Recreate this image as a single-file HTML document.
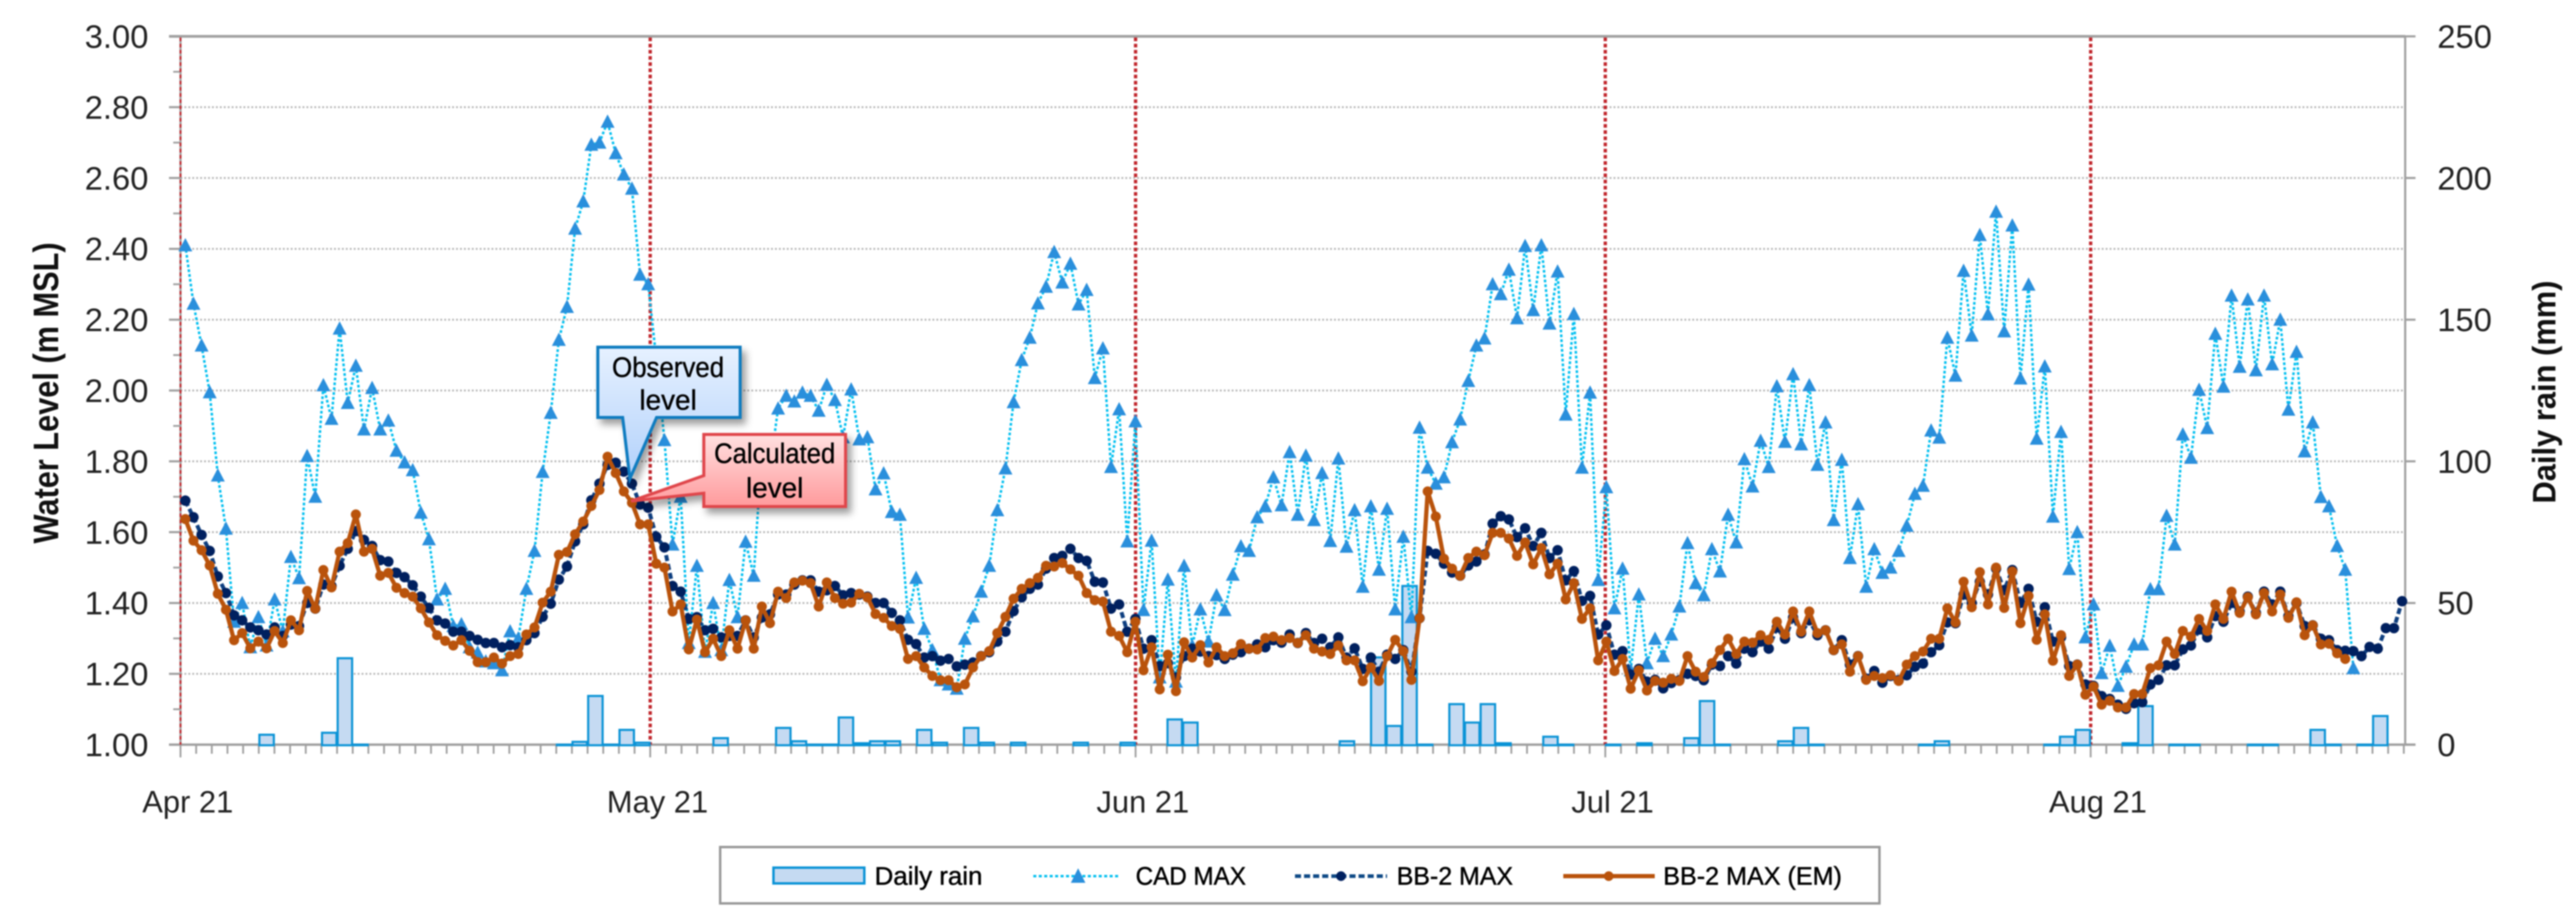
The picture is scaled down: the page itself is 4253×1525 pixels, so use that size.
<!DOCTYPE html>
<html lang="en">
<head>
<meta charset="utf-8">
<title>Water level and daily rain chart</title>
<style>
  html, body { margin: 0; padding: 0; background: #fff; width: 4253px; height: 1525px; overflow: hidden; }
  #chart { display: block; filter: blur(1px); font-family: "Liberation Sans", sans-serif; }
  .callout { filter: drop-shadow(7px 9px 6px rgba(0,0,0,.38)); }
</style>
</head>
<body>
<svg id="chart" xmlns="http://www.w3.org/2000/svg" width="4253" height="1525" viewBox="0 0 4253 1525">
  <defs>
    <linearGradient id="blueFill" x1="0" y1="0" x2="0" y2="1">
      <stop offset="0" stop-color="#e6f1ff"/><stop offset="1" stop-color="#b2d1fb"/>
    </linearGradient>
    <linearGradient id="redFill" x1="0" y1="0" x2="0" y2="1">
      <stop offset="0" stop-color="#ffe0e0"/><stop offset="1" stop-color="#ff9a9c"/>
    </linearGradient>
  </defs>
  <rect x="0" y="0" width="4253" height="1525" fill="#fff"/>
  <g id="gridLayer"></g>
  <g id="axisLayer"></g>
  <g id="monthLayer"></g>
  <g id="rainLayer"></g>
  <g id="cadLayer"></g>
  <g id="bbLayer"></g>
  <g id="emLayer"></g>

  <text transform="translate(96,897) rotate(-90)" font-size="58" font-weight="bold" fill="#111" textLength="497" lengthAdjust="spacingAndGlyphs">Water Level (m MSL)</text>
  <text transform="translate(4219,831) rotate(-90)" font-size="54" font-weight="bold" fill="#111" textLength="368" lengthAdjust="spacingAndGlyphs">Daily rain (mm)</text>

  <g class="callout">
    <path d="M987 573 H1222 V689 H1084 L1040 790 L1028 689 H987 Z" fill="url(#blueFill)" stroke="#0f7cc0" stroke-width="5"/>
  </g>
  <text x="1103" y="622" font-size="46" fill="#000" stroke="#000" stroke-width="0.6" text-anchor="middle" textLength="185" lengthAdjust="spacingAndGlyphs">Observed</text>
  <text x="1103" y="676" font-size="46" fill="#000" stroke="#000" stroke-width="0.6" text-anchor="middle">level</text>

  <g class="callout">
    <path d="M1162 717 H1396 V836 H1162 V814 L1042 827 L1162 785 Z" fill="url(#redFill)" stroke="#e0474c" stroke-width="5"/>
  </g>
  <text x="1279" y="764" font-size="46" fill="#000" stroke="#000" stroke-width="0.6" text-anchor="middle" textLength="200" lengthAdjust="spacingAndGlyphs">Calculated</text>
  <text x="1279" y="821" font-size="46" fill="#000" stroke="#000" stroke-width="0.6" text-anchor="middle">level</text>

  <g>
    <rect x="1189" y="1398" width="1914" height="93" fill="#fff" stroke="#999" stroke-width="4"/>
    <g>
      <rect x="1277" y="1432" width="150" height="26" fill="#c5daf2" stroke="#0a93d6" stroke-width="4"/>
      <text x="1444" y="1460" font-size="42" fill="#000" stroke="#000" stroke-width="0.7" textLength="178" lengthAdjust="spacingAndGlyphs">Daily rain</text>
    </g>
    <g>
      <line x1="1706" y1="1446" x2="1849" y2="1446" stroke="#00bff0" stroke-width="4" stroke-dasharray="5 4"/>
      <polygon points="1780,1433 1792,1457 1768,1457" fill="#2a8fdc"/>
      <text x="1875" y="1460" font-size="42" fill="#000" stroke="#000" stroke-width="0.7" textLength="182" lengthAdjust="spacingAndGlyphs">CAD MAX</text>
    </g>
    <g>
      <line x1="2138" y1="1446" x2="2290" y2="1446" stroke="#0f4a86" stroke-width="6" stroke-dasharray="10 5"/>
      <circle cx="2214" cy="1446" r="8" fill="#00205f"/>
      <text x="2306" y="1460" font-size="42" fill="#000" stroke="#000" stroke-width="0.7" textLength="192" lengthAdjust="spacingAndGlyphs">BB-2 MAX</text>
    </g>
    <g>
      <line x1="2581" y1="1446" x2="2732" y2="1446" stroke="#b9530c" stroke-width="7"/>
      <circle cx="2656" cy="1446" r="8" fill="#b9530c"/>
      <text x="2746" y="1460" font-size="42" fill="#000" stroke="#000" stroke-width="0.7" textLength="295" lengthAdjust="spacingAndGlyphs">BB-2 MAX (EM)</text>
    </g>
  </g>
</svg>
<script>
var leftTickLabels = ['1.00','1.20','1.40','1.60','1.80','2.00','2.20','2.40','2.60','2.80','3.00'];
var rightTickLabels = ['0','50','100','150','200','250'];
var monthLabels = ['Apr 21','May 21','Jun 21','Jul 21','Aug 21'];
var monthSlots = [0,30,61,91,122];

var rainSlots = [5,9,10,11,24,25,26,27,28,29,34,38,39,40,41,42,43,44,45,47,48,50,51,53,57,60,63,64,74,76,77,78,79,81,82,83,84,87,88,91,93,96,97,98,102,103,104,111,112,119,120,121,124,125,127,128,132,133,136,137,139,140];
var rainMm = [3.5,4.2,30.5,0,0,1,17.2,0,5.2,0.7,2.3,5.9,1.2,0,0,9.6,0.5,1.2,1.2,5.2,0.7,5.9,0.7,0.7,0.7,0.7,8.9,7.8,1.2,30.8,6.6,56,0,14.3,7.8,14.3,0.5,2.8,0,0,0.5,2.3,15.4,0,1.2,5.9,0,0,1.2,0,2.8,5.2,0.5,13.6,0,0,0,0,5.2,0,0,10.1];

var cadMax = [
2.41,2.245,2.127,1.995,1.76,1.61,1.347,1.40,1.275,1.36,
1.28,1.41,1.32,1.53,1.47,1.815,1.70,2.015,1.92,2.175,
1.965,2.07,1.89,2.007,1.89,1.915,1.83,1.797,1.775,1.655,
1.58,1.41,1.44,1.335,1.34,1.275,1.26,1.235,1.23,1.21,
1.32,1.30,1.44,1.547,1.77,1.937,2.143,2.236,2.457,2.534,
2.694,2.70,2.759,2.67,2.61,2.57,2.327,2.30,2.09,1.86,
1.565,1.70,1.287,1.505,1.262,1.40,1.267,1.465,1.36,1.573,
1.477,1.83,1.78,1.949,1.985,1.969,1.994,1.985,1.943,2.016,
1.973,1.868,2.003,1.862,1.868,1.721,1.766,1.657,1.649,1.359,
1.471,1.327,1.267,1.182,1.17,1.158,1.299,1.362,1.432,1.505,
1.662,1.78,1.967,2.086,2.149,2.246,2.293,2.391,2.305,2.358,
2.243,2.284,2.035,2.119,1.784,1.947,1.574,1.913,1.38,1.576,
1.19,1.466,1.178,1.505,1.279,1.382,1.291,1.422,1.38,1.48,
1.56,1.547,1.642,1.673,1.755,1.676,1.826,1.649,1.816,1.634,
1.767,1.575,1.808,1.559,1.662,1.446,1.673,1.494,1.666,1.382,
1.587,1.36,1.895,1.782,1.737,1.755,1.854,1.918,2.027,2.127,
2.147,2.30,2.272,2.341,2.204,2.408,2.227,2.41,2.189,2.336,
1.932,2.216,1.782,1.994,1.465,1.727,1.385,1.497,1.21,1.424,
1.23,1.299,1.25,1.311,1.39,1.569,1.456,1.422,1.552,1.489,
1.649,1.571,1.806,1.729,1.858,1.784,2.012,1.855,2.046,1.848,
2.015,1.79,1.91,1.634,1.804,1.527,1.679,1.446,1.552,1.485,
1.50,1.547,1.618,1.708,1.731,1.887,1.867,2.149,2.042,2.338,
2.155,2.439,2.215,2.505,2.167,2.466,2.034,2.299,1.864,2.068,
1.644,1.883,1.496,1.60,1.303,1.396,1.202,1.279,1.166,1.22,
1.283,1.283,1.439,1.439,1.646,1.565,1.876,1.81,2.002,1.894,
2.16,2.011,2.268,2.067,2.257,2.057,2.268,2.074,2.20,1.946,
2.109,1.828,1.91,1.699,1.673,1.561,1.494,1.216];

var bbMax = [
1.689,1.642,1.592,1.547,1.475,1.428,1.365,1.351,1.331,1.323,
1.311,1.331,1.307,1.339,1.335,1.40,1.384,1.452,1.448,1.505,
1.553,1.603,1.578,1.561,1.521,1.517,1.485,1.473,1.45,1.418,
1.386,1.351,1.342,1.319,1.319,1.307,1.296,1.287,1.287,1.275,
1.281,1.275,1.295,1.315,1.361,1.398,1.466,1.503,1.574,1.622,
1.69,1.737,1.79,1.796,1.771,1.737,1.678,1.669,1.587,1.557,
1.448,1.432,1.355,1.36,1.323,1.327,1.303,1.307,1.307,1.351,
1.303,1.359,1.368,1.424,1.424,1.452,1.464,1.464,1.432,1.436,
1.448,1.422,1.428,1.424,1.418,1.40,1.40,1.372,1.351,1.296,
1.284,1.246,1.25,1.237,1.242,1.221,1.226,1.232,1.25,1.261,
1.291,1.319,1.377,1.416,1.44,1.452,1.497,1.527,1.533,1.553,
1.527,1.519,1.46,1.458,1.384,1.396,1.319,1.355,1.271,1.295,
1.222,1.23,1.19,1.25,1.271,1.263,1.25,1.253,1.242,1.254,
1.261,1.271,1.283,1.275,1.295,1.288,1.311,1.287,1.315,1.287,
1.299,1.275,1.303,1.246,1.272,1.214,1.246,1.206,1.254,1.242,
1.267,1.206,1.357,1.547,1.539,1.511,1.486,1.477,1.506,1.517,
1.537,1.624,1.645,1.636,1.586,1.611,1.561,1.598,1.527,1.549,
1.464,1.49,1.406,1.42,1.311,1.337,1.254,1.264,1.198,1.214,
1.178,1.183,1.159,1.174,1.182,1.20,1.194,1.182,1.226,1.222,
1.25,1.229,1.271,1.261,1.291,1.271,1.331,1.299,1.359,1.315,
1.351,1.309,1.323,1.267,1.295,1.226,1.25,1.186,1.208,1.175,
1.194,1.182,1.196,1.22,1.229,1.261,1.281,1.345,1.343,1.424,
1.40,1.46,1.424,1.497,1.436,1.493,1.40,1.44,1.347,1.388,
1.291,1.303,1.222,1.226,1.17,1.166,1.137,1.129,1.113,1.101,
1.117,1.12,1.17,1.183,1.224,1.224,1.269,1.28,1.325,1.303,
1.363,1.347,1.40,1.376,1.418,1.372,1.432,1.396,1.432,1.363,
1.40,1.335,1.337,1.299,1.295,1.267,1.265,1.264,1.25,1.276,
1.271,1.329,1.329,1.405];

var bbMaxEm = [
1.637,1.576,1.549,1.506,1.426,1.381,1.295,1.315,1.272,1.291,
1.272,1.321,1.287,1.351,1.323,1.434,1.384,1.493,1.444,1.545,
1.569,1.65,1.545,1.553,1.477,1.485,1.443,1.428,1.418,1.385,
1.345,1.309,1.293,1.28,1.295,1.265,1.233,1.233,1.246,1.229,
1.25,1.256,1.311,1.331,1.401,1.432,1.536,1.544,1.594,1.63,
1.674,1.719,1.813,1.767,1.715,1.683,1.622,1.622,1.511,1.50,
1.376,1.396,1.269,1.353,1.261,1.299,1.25,1.323,1.271,1.351,
1.271,1.39,1.343,1.432,1.414,1.458,1.463,1.456,1.39,1.458,
1.414,1.398,1.401,1.426,1.416,1.369,1.358,1.335,1.327,1.242,
1.25,1.218,1.194,1.182,1.182,1.162,1.17,1.218,1.25,1.264,
1.315,1.361,1.412,1.44,1.456,1.471,1.505,1.503,1.513,1.495,
1.477,1.428,1.408,1.404,1.319,1.307,1.261,1.347,1.21,1.275,
1.156,1.254,1.151,1.289,1.246,1.281,1.232,1.275,1.25,1.258,
1.284,1.271,1.269,1.301,1.305,1.295,1.301,1.287,1.309,1.271,
1.263,1.256,1.28,1.238,1.238,1.179,1.218,1.18,1.25,1.296,
1.264,1.183,1.357,1.715,1.644,1.525,1.497,1.477,1.527,1.545,
1.535,1.598,1.598,1.582,1.533,1.571,1.509,1.555,1.481,1.511,
1.41,1.456,1.355,1.385,1.238,1.291,1.208,1.242,1.158,1.21,
1.153,1.18,1.175,1.186,1.18,1.25,1.206,1.191,1.23,1.267,
1.299,1.256,1.291,1.288,1.309,1.296,1.347,1.311,1.376,1.319,
1.376,1.315,1.323,1.267,1.283,1.206,1.25,1.183,1.194,1.188,
1.196,1.18,1.226,1.25,1.263,1.299,1.299,1.385,1.345,1.46,
1.388,1.487,1.396,1.50,1.386,1.489,1.343,1.42,1.296,1.368,
1.237,1.309,1.194,1.226,1.141,1.164,1.113,1.124,1.105,1.105,
1.143,1.143,1.216,1.224,1.291,1.256,1.321,1.305,1.355,1.321,
1.396,1.355,1.432,1.372,1.416,1.368,1.428,1.376,1.424,1.358,
1.402,1.309,1.337,1.283,1.285,1.258,1.242];

var SVG_NS = 'http://www.w3.org/2000/svg';
var PLOT_LEFT = 298, PLOT_RIGHT = 3971, PLOT_TOP = 60, PLOT_BOTTOM = 1229;
var SLOT_COUNT = 142;

function xPoint(i) { return 306 + 13.406 * i; }
function xSlot(k) { return PLOT_LEFT + 25.85 * k; }
function yLevel(v) { return PLOT_BOTTOM - (v - 1) * (PLOT_BOTTOM - PLOT_TOP) / 2; }
function yRain(mm) { return PLOT_BOTTOM - mm * (PLOT_BOTTOM - PLOT_TOP) / 250; }

function make(tag, attrs, parent) {
  var el = document.createElementNS(SVG_NS, tag);
  for (var key in attrs) { el.setAttribute(key, attrs[key]); }
  parent.appendChild(el);
  return el;
}
function pointsFor(values) {
  return values.map(function (v, i) { return xPoint(i).toFixed(1) + ',' + yLevel(v).toFixed(1); }).join(' ');
}

var gridLayer = document.getElementById('gridLayer');
var monthLayer = document.getElementById('monthLayer');
var axisLayer = document.getElementById('axisLayer');
var rainLayer = document.getElementById('rainLayer');
var cadLayer = document.getElementById('cadLayer');
var bbLayer = document.getElementById('bbLayer');
var emLayer = document.getElementById('emLayer');
var GRAY = '#a0a0a0';

leftTickLabels.forEach(function (label) {
  var v = parseFloat(label);
  var y = yLevel(v);
  if (v > 1 && v < 3) {
    var grid = make('line', {x1: PLOT_LEFT, y1: y, x2: PLOT_RIGHT, y2: y, stroke: '#b4b4b4', 'stroke-width': 3, 'stroke-dasharray': '3 3.5'}, gridLayer);
    
    
  }
  var tick = make('line', {x1: 279, y1: y, x2: PLOT_LEFT, y2: y, stroke: GRAY, 'stroke-width': 3.5}, axisLayer);
  
  
  if (v < 3) {
    var minorY = yLevel(v + 0.1);
    var minor = make('line', {x1: 286, y1: minorY, x2: PLOT_LEFT, y2: minorY, stroke: GRAY, 'stroke-width': 3}, axisLayer);
    
    
  }
  var text = make('text', {x: 245, y: y + 19, 'font-size': 54, fill: '#222', 'text-anchor': 'end'}, axisLayer);
  text.textContent = label;
  
  
});

rightTickLabels.forEach(function (label) {
  var y = yRain(parseFloat(label));
  var tick = make('line', {x1: PLOT_RIGHT, y1: y, x2: 3988, y2: y, stroke: GRAY, 'stroke-width': 3.5}, axisLayer);
  
  
  var text = make('text', {x: 4024, y: y + 19, 'font-size': 54, fill: '#222'}, axisLayer);
  text.textContent = label;
  
  
});

var leftAxis = make('line', {x1: PLOT_LEFT, y1: PLOT_TOP, x2: PLOT_LEFT, y2: PLOT_BOTTOM, stroke: GRAY, 'stroke-width': 3.5}, axisLayer);


var rightAxis = make('line', {x1: PLOT_RIGHT, y1: PLOT_TOP, x2: PLOT_RIGHT, y2: PLOT_BOTTOM, stroke: GRAY, 'stroke-width': 3.5}, axisLayer);


var topLine = make('line', {x1: 279, y1: PLOT_TOP, x2: PLOT_RIGHT, y2: PLOT_TOP, stroke: GRAY, 'stroke-width': 4.5}, axisLayer);


var xAxis = make('line', {x1: 279, y1: PLOT_BOTTOM, x2: 3988, y2: PLOT_BOTTOM, stroke: GRAY, 'stroke-width': 4}, axisLayer);



for (var k = 0; k <= SLOT_COUNT; k++) {
  var isMonth = monthSlots.indexOf(k) >= 0;
  var xTick = make('line', {x1: xSlot(k), y1: PLOT_BOTTOM, x2: xSlot(k), y2: PLOT_BOTTOM + (isMonth ? 21 : 15), stroke: GRAY, 'stroke-width': 3}, axisLayer);
  
  
}

monthSlots.forEach(function (slot, m) {
  var x = xSlot(slot);
  var sep = make('line', {x1: x, y1: PLOT_TOP + 2, x2: x, y2: PLOT_BOTTOM, stroke: '#c1272d', 'stroke-width': m === 0 ? 3 : 5.5, 'stroke-dasharray': '6 4.2'}, monthLayer);
  
  
  var label = make('text', {x: x + 12, y: 1341, 'font-size': 51, fill: '#222', 'text-anchor': 'middle'}, axisLayer);
  label.textContent = monthLabels[m];
  
  
});

rainSlots.forEach(function (slot, n) {
  var x0 = xSlot(slot) + 1;
  var x1 = xSlot(slot + 1) - 1;
  var top = yRain(rainMm[n]);
  var bar = make('path', {d: 'M' + x0 + ' ' + (PLOT_BOTTOM + 1) + ' V' + top + ' H' + x1 + ' V' + (PLOT_BOTTOM + 1) + ' Z', fill: '#c5daf2', stroke: '#0a93d6', 'stroke-width': 3.5}, rainLayer);
  
  
});

var cadLine = make('polyline', {points: pointsFor(cadMax), fill: 'none', stroke: '#00bff0', 'stroke-width': 4, 'stroke-dasharray': '4.5 3.5'}, cadLayer);


cadMax.forEach(function (v, i) {
  var x = xPoint(i), y = yLevel(v);
  var tri = make('polygon', {points: x + ',' + (y - 12) + ' ' + (x + 11.5) + ',' + (y + 10) + ' ' + (x - 11.5) + ',' + (y + 10), fill: '#2a8fdc'}, cadLayer);
  
  
});

var bbLine = make('polyline', {points: pointsFor(bbMax), fill: 'none', stroke: '#0f3f80', 'stroke-width': 6.5, 'stroke-dasharray': '10 5'}, bbLayer);


bbMax.forEach(function (v, i) {
  var dot = make('circle', {cx: xPoint(i), cy: yLevel(v), r: 8.6, fill: '#00205f'}, bbLayer);
  
  
});

var emLine = make('polyline', {points: pointsFor(bbMaxEm), fill: 'none', stroke: '#b9530c', 'stroke-width': 7, 'stroke-linejoin': 'round'}, emLayer);


bbMaxEm.forEach(function (v, i) {
  var dot = make('circle', {cx: xPoint(i), cy: yLevel(v), r: 8.3, fill: '#b9530c'}, emLayer);
  
  
});
</script>
</body>
</html>
